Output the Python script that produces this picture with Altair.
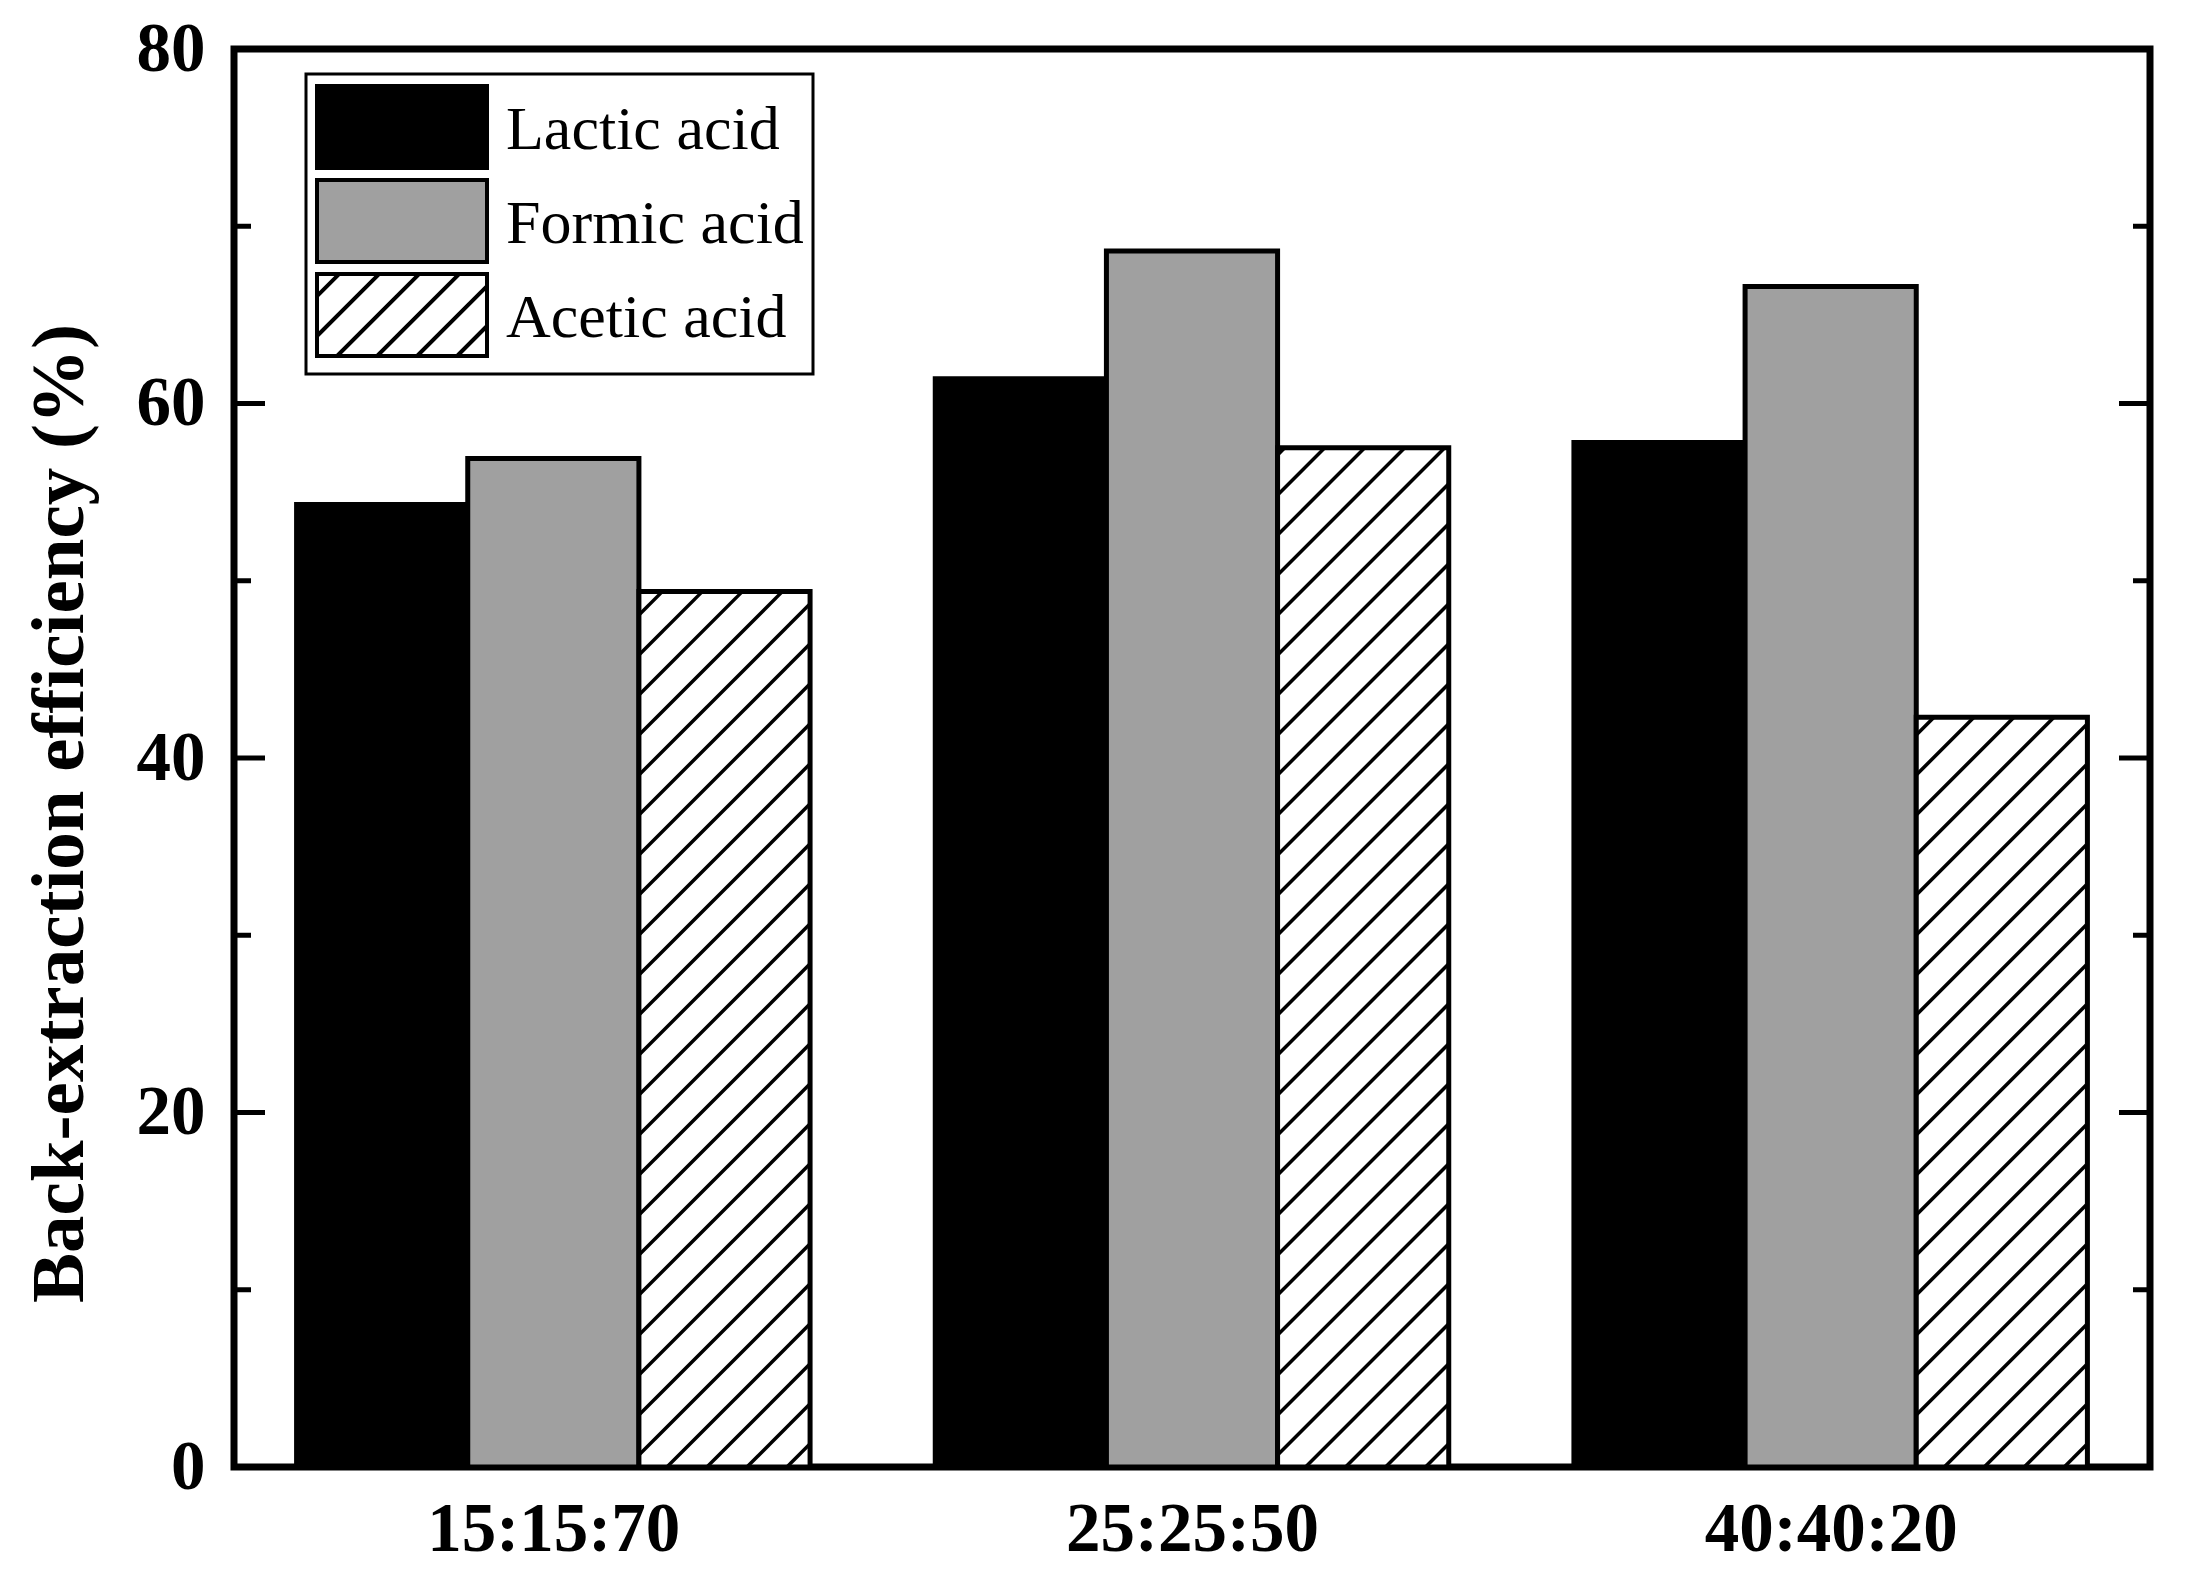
import json
import numpy as np
import pandas as pd
import altair as alt

# ---------------- data ----------------
categories = ["15:15:70", "25:25:50", "40:40:20"]
series = ["Lactic acid", "Formic acid", "Acetic acid"]
lactic = [54.3, 61.4, 57.8]
formic = [56.9, 68.6, 66.6]
acetic = [49.4, 57.5, 42.3]
y_label_values = [0, 20, 40, 60, 80]
y_major_ticks = [20, 40, 60]
y_minor_ticks = [10, 30, 50, 70]

# ---------------- layout / style ----------------
W, H = 1916, 1418
Y_MAX = 80
GROUP_MARGIN = 0.098
BAR_W = (1 - 2 * GROUP_MARGIN) / 3
PX_X = W / len(categories)
PX_Y = H / Y_MAX
HATCH_PX = 40
FONT = "Times New Roman, Liberation Serif, Tinos, serif"
fills = ["#000000", "#a0a0a0", "#ffffff"]

values = {"Lactic acid": lactic, "Formic acid": formic, "Acetic acid": acetic}

rows = []
for i, cat in enumerate(categories):
    for j, s in enumerate(series):
        x0 = i + GROUP_MARGIN + j * BAR_W
        rows.append(dict(category=cat, series=s, x=x0, x2=x0 + BAR_W,
                         xc=x0 + BAR_W / 2, value=values[s][i], base=0))
bars_df = pd.DataFrame(rows)

# hatch lines for the acetic bars (45 deg in pixel space), derived from the values
hatch = []
for i, v in enumerate(acetic):
    x0 = i + GROUP_MARGIN + 2 * BAR_W
    w = BAR_W * PX_X
    h = v * PX_Y
    kmin = int(np.ceil(-w / HATCH_PX))
    kmax = int(np.floor(h / HATCH_PX))
    for k in range(kmin, kmax + 1):
        c = k * HATCH_PX + HATCH_PX * 0.3
        u0 = max(0.0, -c)
        u1 = min(w, h - c)
        if u1 - u0 < 2:
            continue
        hatch.append(dict(hx=x0 + u0 / PX_X, hx2=x0 + u1 / PX_X,
                          hy=(u0 + c) / PX_Y, hy2=(u1 + c) / PX_Y))
hatch_df = pd.DataFrame(hatch)

# inward ticks on left and right frame
TICK_MAJOR = 31 / PX_X
TICK_MINOR = 17 / PX_X
ticks = []
for t in y_major_ticks:
    ticks.append(dict(t=t, tx=0, tx2=TICK_MAJOR))
    ticks.append(dict(t=t, tx=len(categories), tx2=len(categories) - TICK_MAJOR))
for t in y_minor_ticks:
    ticks.append(dict(t=t, tx=0, tx2=TICK_MINOR))
    ticks.append(dict(t=t, tx=len(categories), tx2=len(categories) - TICK_MINOR))
ticks_df = pd.DataFrame(ticks)

# legend symbol shapes (unit square coordinates; slightly raised against the label)
HH = 0.482
MID = -3 / 85
def rect_path():
    return f"M-1,{MID - HH:.3f}H1V{MID + HH:.3f}H-1Z"

def hatched_path(spacing=40 / 85):
    parts = [rect_path()]
    c = -1 - HH + spacing * 0.55
    while c < 1 + HH:
        xa = max(-1.0, c - HH)
        xb = min(1.0, c + HH)
        if xb - xa > 0.02:
            parts.append(f"M{xa:.3f},{c - xa + MID:.3f}L{xb:.3f},{c - xb + MID:.3f}")
        c += spacing
    return "".join(parts)

shapes = [rect_path(), rect_path(), hatched_path()]

# ---------------- axes ----------------
x_axis = alt.Axis(
    values=[i + 0.5 for i in range(len(categories))],
    labelExpr=f"{json.dumps(categories)}[floor(datum.value)]",
    ticks=False, tickSize=0, domain=False, grid=False, title=None,
    labelFont=FONT, labelFontSize=69, labelFontWeight="bold", labelColor="black",
    labelPadding=28, labelFlush=False, labelLimit=1000, labelOverlap=False,
)
y_axis = alt.Axis(
    values=y_label_values, ticks=False, tickSize=0, domain=False, grid=False,
    labelFont=FONT, labelFontSize=69, labelFontWeight="bold", labelColor="black",
    labelPadding=29, labelLimit=1000,
    title="Back-extraction efficiency (%)",
    titleFont=FONT, titleFontSize=75, titleFontWeight="bold", titleColor="black",
    titleAngle=270, titleAlign="center", titleBaseline="alphabetic",
    titleX=-152, titleY=764, titleLimit=2000,
)
x_scale = alt.Scale(domain=[0, len(categories)], nice=False, zero=False)
y_scale = alt.Scale(domain=[0, Y_MAX], nice=False)

legend = alt.Legend(
    orient="none", legendX=72, legendY=25, title=None, direction="vertical",
    fillColor="white", padding=9, clipHeight=94,
    symbolSize=170 * 170, symbolStrokeColor="black", symbolStrokeWidth=4,
    symbolOpacity=1,
    labelFont=FONT, labelFontSize=62, labelColor="black", labelOffset=17,
    rowPadding=0, labelLimit=600,
)

legend_layer = alt.Chart(bars_df).mark_point(
    filled=False, color="black", opacity=0, strokeWidth=4, strokeJoin="round"
).encode(
    x=alt.X("xc:Q", scale=x_scale, axis=x_axis),
    y=alt.Y("value:Q", scale=y_scale, axis=y_axis),
    fill=alt.Fill("series:N", scale=alt.Scale(domain=series, range=fills), legend=legend),
    shape=alt.Shape("series:N", scale=alt.Scale(domain=series, range=shapes), legend=legend),
    stroke=alt.Stroke("series:N", scale=alt.Scale(domain=series, range=["black"] * len(series)),
                      legend=legend),
)

bars = alt.Chart(bars_df).mark_rect(stroke="black", strokeWidth=5).encode(
    x=alt.X("x:Q", scale=x_scale, axis=x_axis),
    x2="x2:Q",
    y=alt.Y("value:Q", scale=y_scale, axis=y_axis),
    y2="base:Q",
    color=alt.Color("series:N", scale=alt.Scale(domain=series, range=fills), legend=None),
)

hatch_layer = alt.Chart(hatch_df).mark_rule(color="black", strokeWidth=3.5).encode(
    x=alt.X("hx:Q", scale=x_scale, axis=x_axis),
    x2="hx2:Q",
    y=alt.Y("hy:Q", scale=y_scale, axis=y_axis),
    y2="hy2:Q",
)

tick_layer = alt.Chart(ticks_df).mark_rule(color="black", strokeWidth=5).encode(
    x=alt.X("tx:Q", scale=x_scale, axis=x_axis),
    x2="tx2:Q",
    y=alt.Y("t:Q", scale=y_scale, axis=y_axis),
)

chart = alt.layer(legend_layer, bars, hatch_layer, tick_layer).properties(
    width=W, height=H,
    autosize=alt.AutoSizeParams(type="none"),
    padding={"left": 226, "top": 41, "right": 20, "bottom": 98},
    background="white",
).configure_view(stroke="black", strokeWidth=7).configure_legend(
    strokeColor="black", strokeWidth=3
)

chart.save("out.html", embed_options={"renderer": "svg", "actions": False})
